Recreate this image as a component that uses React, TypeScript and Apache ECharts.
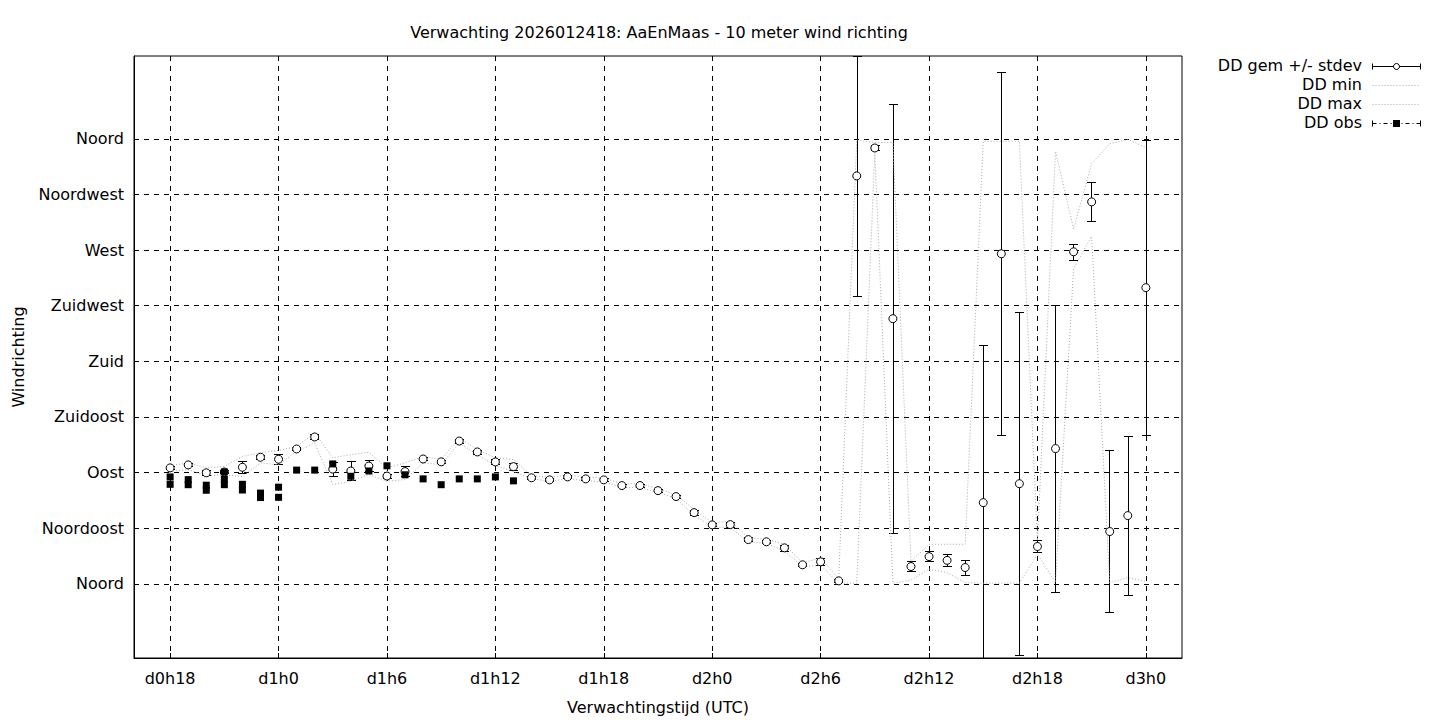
import React, { useEffect, useRef } from "react";
import * as echarts from "echarts";

// Forecast hours since d0h0
const hours = [18,19,20,21,22,23,24,25,26,27,28,29,30,31,32,33,34,35,36,37,38,39,40,41,42,43,44,45,46,47,48,49,50,51,52,53,54,55,56,57,58,59,60,61,62,63,64,65,66,67,68,69,70,71,72];

const ddMean = [93.8,96.2,89.8,90.5,94.3,102.4,100.8,109.1,118.8,92.8,91.3,95.3,87.2,90.8,101,98.7,115.5,106.7,98.6,94.8,85.8,84.1,86.5,84.9,84.1,79.5,79.5,75.4,70.6,57.6,47.7,47.9,35.8,34,29.1,15.4,17.8,2.4,330,352.6,214.5,14,22,19,13.2,65.7,267,81,30.2,109.4,268.6,309,42.3,55.2,239.6];

const ddStdev = [1,1,2,1,5,2,4,1,2,5.5,7.5,4.5,1.5,4,1,1,1.5,1.5,2,3,1,1,1,1,1,1,1,1,1,2,1,2,1.5,1,2.5,1,2.5,1,97,2,173.5,4,4,5,6,127,147,139,5,116,6.5,15.5,65.5,64.5,119];

const ddMin = [91,92.4,87.5,88,87,97.8,96.4,107,114,80.3,83,88.4,83,84.3,97.8,96.4,114,104.5,95.6,91,85,83,85,83.5,82.5,78,78,74,69,55.5,46,45.5,34,32.5,26.5,14,15,0.5,0.5,349,0.5,3,12,9,1,0.5,0.5,0.5,24,1,255,281,1,5,2];

const ddMax = [95.6,97.8,93.8,95,103,106,108,111,122,102,104.5,106.4,93.8,97.8,103,100.5,118,108.6,102,100.5,87.5,86.2,88,86.5,85.5,81,81,77,72,60,49.5,50.5,37.5,36,32,17,21,4,359,357,357,18,32,32,32,358,358,358,35,350,287,340,356,359.5,353];

const obsHours = [18,18,19,19,20,20,21,21,21,22,22,23,23,24,24,25,26,27,28,29,30,31,32,33,34,35,36,37];
const obsValues = [86.5,80.5,84.3,80.2,79.8,75.7,90.5,84.5,80.2,80.5,75.9,73.4,69.8,78.2,70,92,92,97,87,91.3,95.5,88.2,84.9,80.2,84.9,84.9,86.5,83.3];

const xTickValues = [18,24,30,36,42,48,54,60,66,72];
const xTickLabels = ["d0h18","d1h0","d1h6","d1h12","d1h18","d2h0","d2h6","d2h12","d2h18","d3h0"];
const yTickValues = [0,45,90,135,180,225,270,315,360];
const yTickLabels = ["Noord","Noordoost","Oost","Zuidoost","Zuid","Zuidwest","West","Noordwest","Noord"];

const legendLabels = ["DD gem +/- stdev","DD min","DD max","DD obs"];

const FONT = "DejaVu Sans";
const FS = 16;
const GRAY = "#a8a8a8";

// pixel column/row that a 1px axis split line at position p covers
const pixelOf = (p: number) => Math.floor(Math.round(p * 2) / 2);

export default function App() {
  const ref = useRef<HTMLDivElement>(null);
  useEffect(() => {
    if (!ref.current) return;
    const chart = echarts.init(ref.current, null, { renderer: "svg" });
    const meanData = hours.map((h, i) => [h, ddMean[i], ddStdev[i]]);
    const lx0 = 1372.5, lx1 = 1420.5, lxm = 1396.5;
    const rowY = [66.5, 85.5, 104.5, 123.5];
    const blk = { stroke: "#000", lineWidth: 1 };
    const legendGraphics: any[] = [];
    legendLabels.forEach((t, i) => {
      legendGraphics.push({
        type: "text", right: 1440 - 1362, top: rowY[i] - 9,
        style: { text: t, fill: "#000", font: `${FS}px '${FONT}'`, textAlign: "right" },
      });
    });
    legendGraphics.push(
      { type: "line", shape: { x1: lx0, y1: rowY[0], x2: lx1, y2: rowY[0] }, style: blk },
      { type: "line", shape: { x1: lx0, y1: rowY[0] - 3, x2: lx0, y2: rowY[0] + 3 }, style: blk },
      { type: "line", shape: { x1: lx1, y1: rowY[0] - 3, x2: lx1, y2: rowY[0] + 3 }, style: blk },
      { type: "circle", shape: { cx: lxm, cy: rowY[0], r: 3 }, style: { fill: "#fff", stroke: "#000", lineWidth: 1 } },
      { type: "line", shape: { x1: lx0, y1: rowY[1], x2: lx1, y2: rowY[1] }, style: { stroke: GRAY, lineWidth: 1, lineDash: [1, 2] } },
      { type: "line", shape: { x1: lx0, y1: rowY[2], x2: lx1, y2: rowY[2] }, style: { stroke: GRAY, lineWidth: 1, lineDash: [1, 2] } },
      { type: "line", shape: { x1: lx0, y1: rowY[3], x2: lx1, y2: rowY[3] }, style: { stroke: "#000", lineWidth: 1, lineDash: [4, 3, 1, 3] } },
      { type: "line", shape: { x1: lx0, y1: rowY[3] - 3, x2: lx0, y2: rowY[3] + 3 }, style: blk },
      { type: "line", shape: { x1: lx1, y1: rowY[3] - 3, x2: lx1, y2: rowY[3] + 3 }, style: blk },
      { type: "rect", shape: { x: lxm - 3.5, y: rowY[3] - 3.5, width: 7, height: 7 }, style: { fill: "#000" } },
    );

    chart.setOption({
      animation: false,
      backgroundColor: "#fff",
      textStyle: { fontFamily: FONT },
      title: {
        text: "Verwachting 2026012418: AaEnMaas - 10 meter wind richting",
        left: 654, top: 19, textAlign: "center",
        textStyle: { fontFamily: FONT, fontSize: FS, fontWeight: "normal", color: "#000" },
      },
      grid: { left: 134, top: 56, right: 258, bottom: 62, show: true, borderColor: "#000", borderWidth: 1, backgroundColor: "transparent" },
      xAxis: {
        type: "value", min: 16, max: 74,
        name: "Verwachtingstijd (UTC)", nameLocation: "middle", nameGap: 41,
        nameTextStyle: { fontFamily: FONT, fontSize: FS, color: "#000" },
        axisLine: { show: true, onZero: false, lineStyle: { color: "#000" } },
        axisTick: { show: true, inside: true, length: 5, customValues: xTickValues, lineStyle: { color: "#000" } },
        axisLabel: {
          customValues: xTickValues, margin: 12, fontFamily: FONT, fontSize: FS, color: "#000",
          formatter: (v: number) => xTickLabels[xTickValues.indexOf(v)] ?? "",
        },
        splitLine: { show: true, lineStyle: { color: "#000", type: [5, 5], width: 1 } },
      },
      yAxis: {
        type: "value", min: -60, max: 427,
        name: "Windrichting", nameLocation: "middle", nameGap: 108, nameRotate: 90,
        nameTextStyle: { fontFamily: FONT, fontSize: FS, color: "#000" },
        axisLine: { show: true, onZero: false, lineStyle: { color: "#000" } },
        axisTick: { show: true, inside: true, length: 5, customValues: yTickValues, lineStyle: { color: "#000" } },
        axisLabel: {
          customValues: yTickValues, margin: 10, fontFamily: FONT, fontSize: FS, color: "#000",
          formatter: (v: number) => yTickLabels[yTickValues.indexOf(v)] ?? "",
        },
        splitLine: { show: true, lineStyle: { color: "#000", type: [5, 5], width: 1 } },
      },
      graphic: legendGraphics,
      series: [
        {
          name: "DD min", type: "line", data: hours.map((h, i) => [h, ddMin[i]]),
          symbol: "none", lineStyle: { color: GRAY, width: 1, type: [1, 2] }, silent: true, clip: true,
        },
        {
          name: "DD max", type: "line", data: hours.map((h, i) => [h, ddMax[i]]),
          symbol: "none", lineStyle: { color: GRAY, width: 1, type: [1, 2] }, silent: true, clip: true,
        },
        {
          name: "DD gem +/- stdev", type: "custom", clip: true, data: meanData, z: 3,
          renderItem: (_p: any, api: any) => {
            const x = api.value(0), m = api.value(1), s = api.value(2);
            const lo = api.coord([x, m - s]);
            const hi = api.coord([x, m + s]);
            const px = pixelOf(lo[0]);
            const ylo = pixelOf(lo[1]);
            const yhi = pixelOf(hi[1]);
            const cw = 4;
            const fill = { fill: "#000" };
            return {
              type: "group",
              children: [
                { type: "rect", shape: { x: px, y: yhi, width: 1, height: Math.max(1, ylo - yhi + 1) }, style: fill },
                { type: "rect", shape: { x: px - cw, y: ylo, width: 2 * cw + 1, height: 1 }, style: fill },
                { type: "rect", shape: { x: px - cw, y: yhi, width: 2 * cw + 1, height: 1 }, style: fill },
              ],
            };
          },
        },
        {
          name: "DD gem", type: "scatter", data: hours.map((h, i) => [h, ddMean[i]]),
          symbol: "circle", symbolSize: 8, clip: true, z: 4,
          itemStyle: { color: "#fff", borderColor: "#000", borderWidth: 1, opacity: 1 },
        },
        {
          name: "DD obs", type: "scatter", data: obsHours.map((h, i) => [h, obsValues[i]]),
          symbol: "rect", symbolSize: 7, clip: true, z: 5,
          itemStyle: { color: "#000", opacity: 1 },
        },
      ],
    });
    return () => chart.dispose();
  }, []);
  return <div ref={ref} style={{ position: "fixed", left: 0, top: 0, width: 1440, height: 720, background: "#fff" }} />;
}
